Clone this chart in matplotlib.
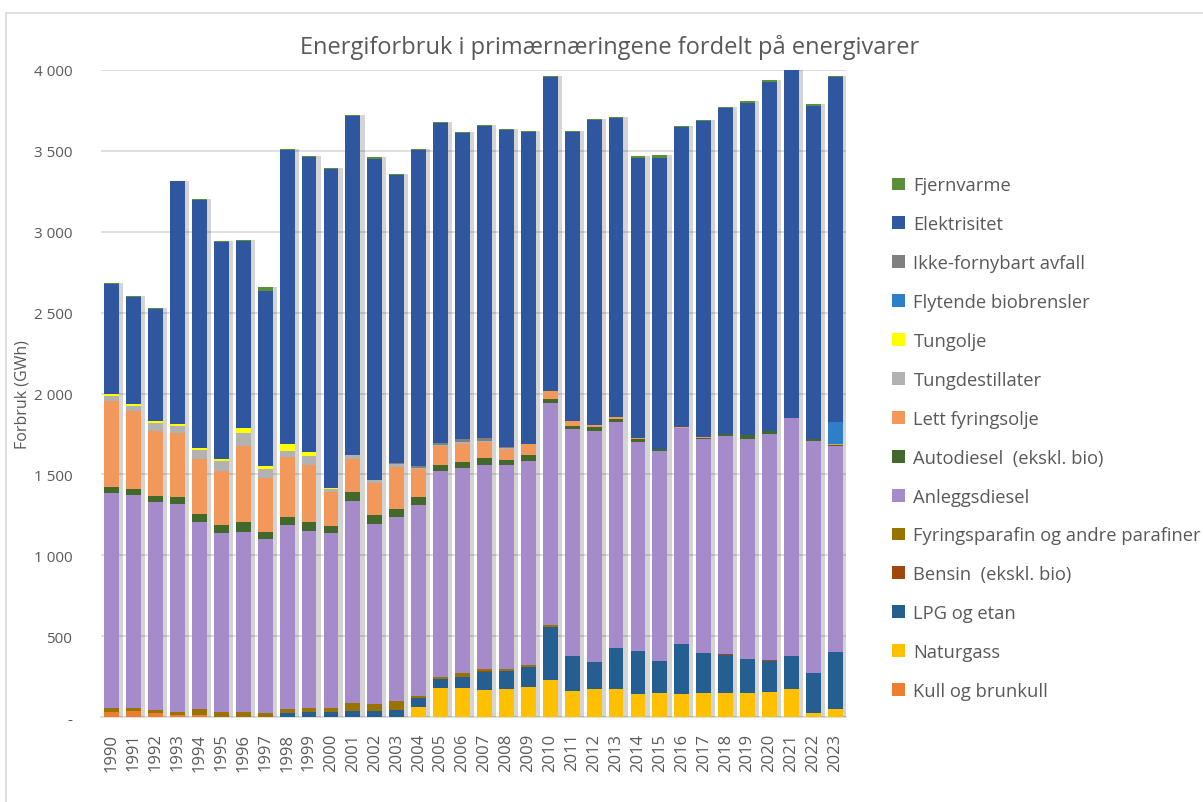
import matplotlib
matplotlib.use("Agg")
import matplotlib.pyplot as plt
import matplotlib.patheffects as pe
from matplotlib.lines import Line2D
from matplotlib.patches import Patch
import numpy as np

years = [str(y) for y in range(1990, 2024)]

kull = [35, 41, 25, 14, 12, 0, 0, 0, 0, 0, 0, 0, 0, 0, 0, 0, 0, 0, 0, 0,
        0, 0, 0, 0, 0, 0, 0, 0, 0, 0, 0, 0, 0, 0]
naturgass = [0, 0, 0, 0, 0, 0, 0, 0, 0, 0, 0, 0, 0, 0, 66, 182, 181, 169, 175, 187,
             229, 165, 175, 175, 146, 152, 146, 152, 152, 152, 159, 175, 27, 54]
lpg = [0, 0, 0, 0, 0, 0, 0, 0, 29, 31, 35, 41, 41, 46, 54, 53, 70, 109, 111, 122,
       331, 212, 165, 255, 266, 196, 307, 243, 233, 208, 191, 204, 247, 347]
bensin = [0, 0, 0, 0, 0, 0, 0, 0, 0, 0, 0, 0, 0, 0, 0, 0, 0, 8, 0, 0,
          0, 0, 2, 0, 0, 0, 0, 0, 6, 0, 5, 0, 0, 3]
parafin = [23, 17, 20, 21, 40, 35, 35, 29, 23, 27, 23, 47, 41, 55, 14, 17, 23, 13, 13, 14,
           10, 4, 2, 0, 0, 0, 0, 0, 0, 0, 0, 0, 0, 0]
anleggsdiesel = [1327, 1312, 1284, 1282, 1155, 1102, 1112, 1073, 1134, 1095, 1079, 1245, 1113, 1139,
                 1179, 1267, 1266, 1262, 1262, 1262, 1369, 1397, 1427, 1393, 1287, 1299, 1331, 1325,
                 1345, 1360, 1397, 1467, 1435, 1274]
autodiesel = [35, 40, 39, 45, 48, 52, 58, 45, 54, 56, 45, 60, 53, 46, 45, 42, 39, 41, 31, 36,
              25, 24, 23, 17, 23, 8, 5, 5, 11, 23, 14, 3, 9, 3]
lett_fyringsolje = [535, 483, 401, 397, 341, 332, 473, 333, 368, 352, 211, 203, 197, 258, 176, 117,
                    112, 99, 68, 70, 51, 27, 13, 12, 4, 5, 5, 5, 3, 3, 3, 2, 2, 5]
tungdestillater = [27, 29, 50, 43, 58, 60, 75, 56, 39, 55, 17, 22, 21, 21, 8, 5, 8, 5, 5, 0,
                   0, 0, 0, 0, 0, 0, 0, 0, 0, 0, 0, 0, 0, 0]
tungolje = [14, 13, 10, 11, 10, 15, 31, 18, 44, 23, 8, 2, 0, 0, 0, 0, 0, 0, 0, 0,
            0, 0, 0, 0, 0, 0, 0, 0, 0, 0, 0, 0, 0, 0]
flytende_bio = [0, 0, 0, 0, 0, 0, 0, 0, 0, 0, 0, 0, 0, 0, 0, 0, 0, 0, 0, 0,
                0, 0, 0, 0, 0, 0, 0, 0, 0, 0, 0, 0, 0, 140]
avfall = [0, 0, 0, 0, 0, 0, 0, 0, 0, 0, 0, 0, 0, 5, 10, 12, 22, 20, 5, 0,
          0, 0, 0, 0, 0, 0, 0, 0, 0, 0, 0, 0, 0, 0]
elektrisitet = [679, 661, 693, 1497, 1533, 1342, 1158, 1081, 1813, 1820, 1969, 2093, 1985, 1778,
                1952, 1978, 1889, 1928, 1956, 1925, 1942, 1787, 1883, 1850, 1731, 1793, 1851, 1954,
                2014, 2051, 2155, 2153, 2056, 2128]
fjernvarme = [6, 6, 6, 5, 6, 6, 8, 25, 6, 6, 6, 6, 8, 6, 6, 6, 5, 6, 6, 6,
              6, 6, 6, 6, 8, 18, 6, 6, 8, 10, 10, 6, 14, 6]

series = [
    ("Kull og brunkull", kull, "#ed7d31"),
    ("Naturgass", naturgass, "#ffc000"),
    ("LPG og etan", lpg, "#255e91"),
    ("Bensin  (ekskl. bio)", bensin, "#9e480e"),
    ("Fyringsparafin og andre parafiner", parafin, "#997300"),
    ("Anleggsdiesel", anleggsdiesel, "#a58bc9"),
    ("Autodiesel  (ekskl. bio)", autodiesel, "#43682b"),
    ("Lett fyringsolje", lett_fyringsolje, "#f1985a"),
    ("Tungdestillater", tungdestillater, "#b2b2b2"),
    ("Tungolje", tungolje, "#ffff00"),
    ("Flytende biobrensler", flytende_bio, "#2e7fc8"),
    ("Ikke-fornybart avfall", avfall, "#808080"),
    ("Elektrisitet", elektrisitet, "#2f57a0"),
    ("Fjernvarme", fjernvarme, "#5b8e3a"),
]

ytick_vals = [0, 500, 1000, 1500, 2000, 2500, 3000, 3500, 4000]
ytick_labels = ["-", "500", "1 000", "1 500", "2 000", "2 500", "3 000", "3 500", "4 000"]

plt.rcParams['font.family'] = ['Open Sans', 'DejaVu Sans']
txt = "#595959"

fig = plt.figure(figsize=(12.03, 8.03), dpi=100)
ax_w_px = 745.6
ax = fig.add_axes([100.7 / 1203, 1 - 718.3 / 803, ax_w_px / 1203, (718.3 - 70.7) / 803])

x = np.arange(len(years))
bottom = np.zeros(len(years))
handles = []
shadow = [pe.SimplePatchShadow(offset=(3, 0), shadow_rgbFace="#000000", alpha=0.17), pe.Normal()]
for name, vals, col in series:
    v = np.array(vals, dtype=float)
    bars = ax.bar(x, v, bottom=bottom, width=0.68, color=col, linewidth=0, zorder=3)
    for b in bars:
        b.set_path_effects(shadow)
    bottom += v
    handles.append(Patch(facecolor=col, edgecolor='none', label=name))

ax.set_xlim(-0.5, len(years) - 0.5)
ax.set_ylim(0, 4000)
ax.set_yticks(ytick_vals)
ax.set_yticklabels(ytick_labels)
ax.set_xticks(x)
ax.set_xticklabels(years, rotation=90)
ax.tick_params(axis='both', length=0, colors=txt, labelsize=11.5)
ax.tick_params(axis='y', pad=20.5, labelsize=11)
ax.tick_params(axis='x', pad=11, labelsize=12)
ax.grid(axis='y', color="#d9d9d9", linewidth=1.2, zorder=0)
ax.set_axisbelow(True)
for s in ['top', 'right', 'left']:
    ax.spines[s].set_visible(False)
ax.spines['bottom'].set_color("#d9d9d9")
ax.spines['bottom'].set_linewidth(1.2)

ax.set_ylabel("Forbruk (GWh)", color=txt, fontsize=11.5)
ax.yaxis.set_label_coords((31 - 100.7) / ax_w_px, 0.5)

fig.text(610 / 1203, 1 - 47 / 803, "Energiforbruk i primærnæringene fordelt på energivarer",
         ha='center', va='center', fontsize=17, color=txt)

leg = fig.legend(handles=handles[::-1], loc='upper left',
                 bbox_to_anchor=(885 / 1203, 1 - 170 / 803), frameon=False,
                 fontsize=13.2, labelcolor=txt, handlelength=0.7, handleheight=0.7,
                 handletextpad=0.45, labelspacing=1.14, borderaxespad=0)

# chart border
fig.add_artist(Line2D([6 / 1203, 1.0], [1 - 14 / 803, 1 - 14 / 803], color="#d9d9d9", lw=1.2))
fig.add_artist(Line2D([6 / 1203, 6 / 1203], [0.0, 1 - 14 / 803], color="#d9d9d9", lw=1.2))

fig.savefig("out.png", dpi=100)
